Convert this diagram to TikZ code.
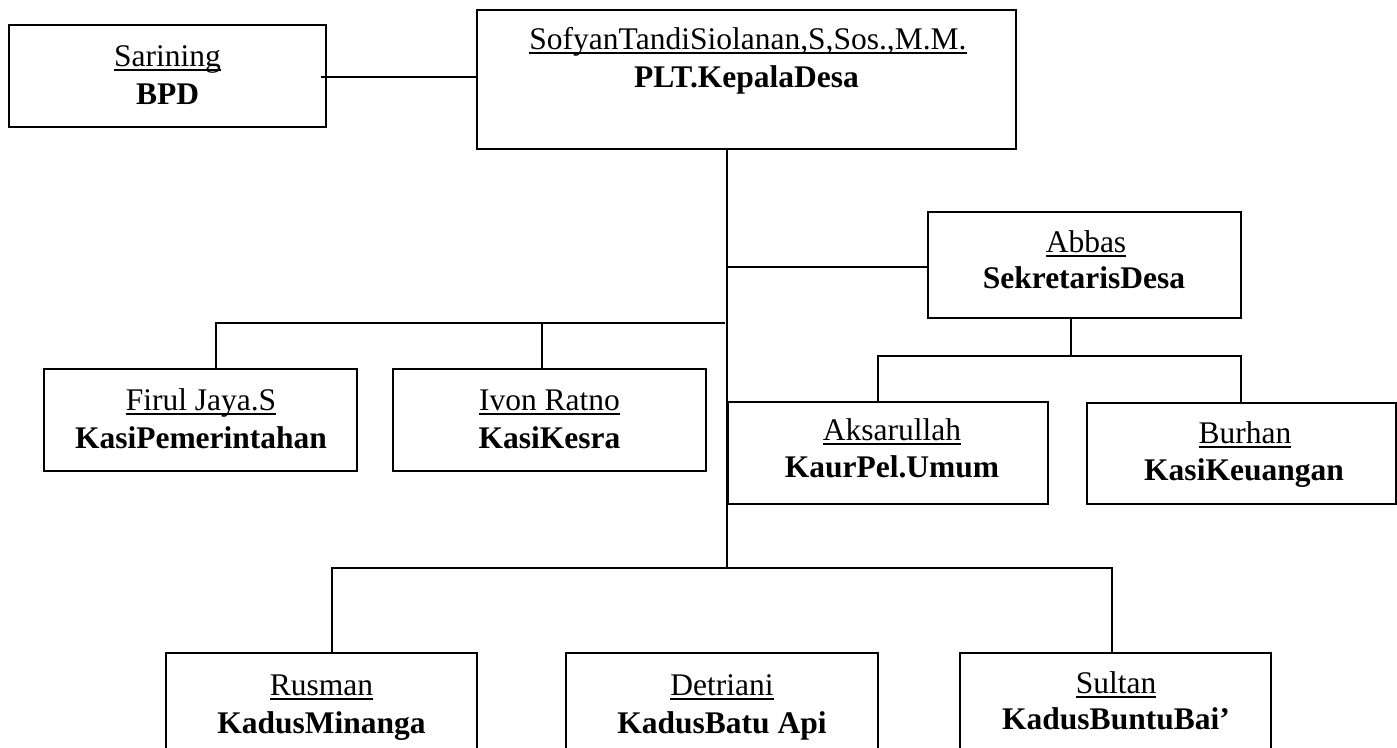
\documentclass[tikz,border=0pt]{standalone}
\usepackage{fontspec}
\setmainfont{Liberation Serif}
\newcommand\myul[1]{\setbox0\hbox{#1}\rlap{\rule[-5pt]{\wd0}{2pt}}\box0}
\begin{document}
\begin{tikzpicture}[x=1pt,y=-1pt,
  box/.style={draw, line width=2pt, inner sep=0pt, outer sep=0pt},
  nm/.style={anchor=base, inner sep=0pt, font=\fontsize{31.5}{38}\selectfont},
  tt/.style={anchor=base, inner sep=0pt, font=\fontsize{31.5}{38}\selectfont\bfseries},
  conn/.style={line width=2pt}]
\useasboundingbox (0,0) rectangle (1397,747);
\clip (0,0) rectangle (1397,747);
\fill[white] (0,0) rectangle (1397,747);
% boxes
\node[box, minimum width=317pt, minimum height=102pt] (bpd) at (167.5,76) {};
\node[box, minimum width=539pt, minimum height=139pt] (kep) at (746.5,79.5) {};
\node[box, minimum width=313pt, minimum height=106pt] (sek) at (1084.5,265) {};
\node[box, minimum width=313pt, minimum height=102pt] (firul) at (200.5,420) {};
\node[box, minimum width=313pt, minimum height=102pt] (ivon) at (549.5,420) {};
\node[box, minimum width=320pt, minimum height=102pt] (aks) at (888,453) {};
\node[box, minimum width=309pt, minimum height=101pt] (bur) at (1241.5,453.5) {};
\node[box, minimum width=311pt, minimum height=117pt] (rus) at (321.5,711.5) {};
\node[box, minimum width=312pt, minimum height=117pt] (det) at (722,711.5) {};
\node[box, minimum width=311pt, minimum height=117pt] (sul) at (1115.5,711.5) {};
% texts
\node[nm] (bpdn) at (167.5,66) {\myul{Sarining}};
\node[tt] (bpdt) at (167.5,104) {BPD};
\node[nm] (kepn) at (748,49) {\myul{SofyanTandiSiolanan,S,Sos.,M.M.}};
\node[tt] (kept) at (746.5,87) {PLT.KepalaDesa};
\node[nm] (sekn) at (1086,252) {\myul{Abbas}};
\node[tt] (sekt) at (1084,288) {SekretarisDesa};
\node[nm] (firuln) at (201,410) {\myul{Firul Jaya.S}};
\node[tt] (firult) at (201,448) {KasiPemerintahan};
\node[nm] (ivonn) at (549.5,410) {\myul{Ivon Ratno}};
\node[tt] (ivont) at (549.5,448) {KasiKesra};
\node[nm] (aksn) at (892,440) {\myul{Aksarullah}};
\node[tt] (akst) at (892,477) {KaurPel.Umum};
\node[nm] (burn) at (1245,443) {\myul{Burhan}};
\node[tt] (burt) at (1244,480) {KasiKeuangan};
\node[nm] (rusn) at (321.5,695) {\myul{Rusman}};
\node[tt] (rust) at (321.5,733) {KadusMinanga};
\node[nm] (detn) at (722,695) {\myul{Detriani}};
\node[tt] (dett) at (722,733) {KadusBatu Api};
\node[nm] (suln) at (1116,693) {\myul{Sultan}};
\node[tt] (sult) at (1116,729) {KadusBuntuBai’};
% connector coordinates
\coordinate (c1) at (321,77);
\coordinate (tr) at (727,568);
\coordinate (ts) at (727,267);
\coordinate (lh) at (725,323);
\coordinate (fl) at (216,323);
\coordinate (il) at (542,323);
\coordinate (sd) at (1071,356);
\coordinate (sl) at (878,356);
\coordinate (sr) at (1241,356);
\coordinate (bl) at (332,568);
\coordinate (br) at (1112,568);
% connectors
\draw[conn] (c1) -- (c1 -| kep.west);
\draw[conn] (kep.south -| tr) -- (tr);
\draw[conn] (ts) -- (ts -| sek.west);
\draw[conn] (lh) -- (fl) -- (fl |- firul.north);
\draw[conn] (il) -- (il |- ivon.north);
\draw[conn] (sek.south -| sd) -- (sd);
\draw[conn] (sl |- aks.north) -- (sl) -- (sr) -- (sr |- bur.north);
\draw[conn] (bl |- rus.north) -- (bl) -- (br) -- (br |- sul.north);
\end{tikzpicture}
\end{document}
